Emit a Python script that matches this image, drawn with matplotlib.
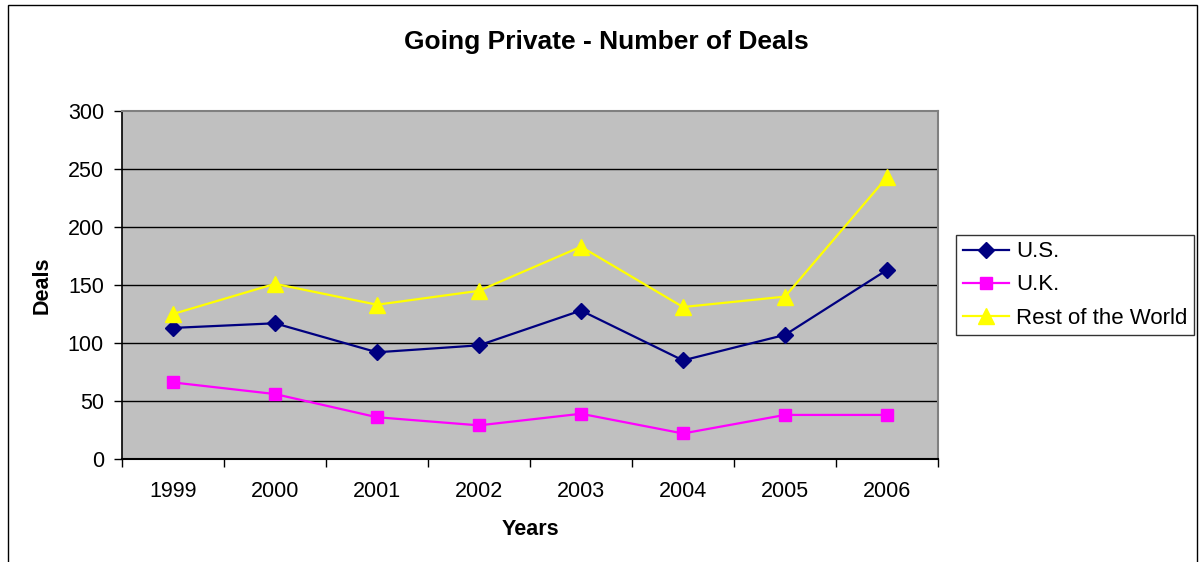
import matplotlib as mpl
mpl.use('Agg')
import numpy as np
import matplotlib.pyplot as plt
from matplotlib.patches import Rectangle

plt.rcParams['font.family'] = ['Liberation Sans', 'DejaVu Sans']

# Going private deals per year
years = ['1999', '2000', '2001', '2002', '2003', '2004', '2005', '2006']
us    = [113, 117, 92, 98, 128, 85, 107, 163]
uk    = [66, 56, 36, 29, 39, 22, 38, 38]
row   = [125, 151, 133, 145, 183, 131, 140, 243]
yticks = [0, 50, 100, 150, 200, 250, 300]

fig = plt.figure(figsize=(12.03, 5.62), dpi=100)
ax = fig.add_axes([122/1203, 1 - 459/562, 816/1203, 348/562])
ax.set_facecolor('#C0C0C0')

x = np.arange(len(years))
ax.plot(x, us,  color='#000080', lw=1.6, marker='D', ms=8.5, label='U.S.', zorder=3)
ax.plot(x, uk,  color='#FF00FF', lw=1.6, marker='s', ms=9, label='U.K.', zorder=3)
ax.plot(x, row, color='#FFFF00', lw=1.6, marker='^', ms=11, label='Rest of the World', zorder=3)

# horizontal gridlines
for v in yticks[1:-1]:
    ax.axhline(v, color='black', lw=1.0, zorder=1)

ax.set_xlim(-0.5, len(years) - 0.5)
ax.set_ylim(0, 300)
ax.set_yticks(yticks)
ax.set_yticklabels([str(v) for v in yticks], fontsize=15.5)

# category ticks sit on the boundaries, labels in the middle
ax.set_xticks(np.arange(len(years) + 1) - 0.5)
ax.set_xticklabels([])
ax.set_xticks(x, minor=True)
ax.set_xticklabels(years, minor=True, fontsize=15.5)
ax.tick_params(axis='x', which='major', direction='out', length=6, width=1)
ax.tick_params(axis='x', which='minor', length=0, pad=16)
ax.tick_params(axis='y', direction='out', length=6, width=1, pad=7)

for side in ['top', 'right']:
    ax.spines[side].set_color('#808080')
    ax.spines[side].set_linewidth(1.5)
ax.spines['left'].set_linewidth(1.2)
ax.spines['bottom'].set_linewidth(1.5)

ax.set_xlabel('Years', fontsize=15.5, fontweight='bold')
ax.xaxis.set_label_coords(0.5, -0.172)
ax.set_ylabel('Deals', fontsize=15.5, fontweight='bold')
ax.yaxis.set_label_coords(-0.0846, 0.5)

fig.text(606/1203, 1 - 42/562, 'Going Private - Number of Deals',
         ha='center', va='center', fontsize=19, fontweight='bold')

leg = ax.legend(loc='center left', bbox_to_anchor=(956/1203, 1 - 285/562),
                bbox_transform=fig.transFigure, fontsize=16, frameon=True,
                fancybox=False, handlelength=2.1, handletextpad=0.3,
                borderpad=0.3, labelspacing=0.55, borderaxespad=0)
leg.get_frame().set_edgecolor('black')
leg.get_frame().set_linewidth(1.0)

# outer chart border
fig.patches.append(Rectangle((8/1203, -0.05), 1189/1203, 1.05 - 5/562,
                             transform=fig.transFigure, fill=False,
                             edgecolor='black', lw=1.0))

fig.savefig('out.png', dpi=100)
